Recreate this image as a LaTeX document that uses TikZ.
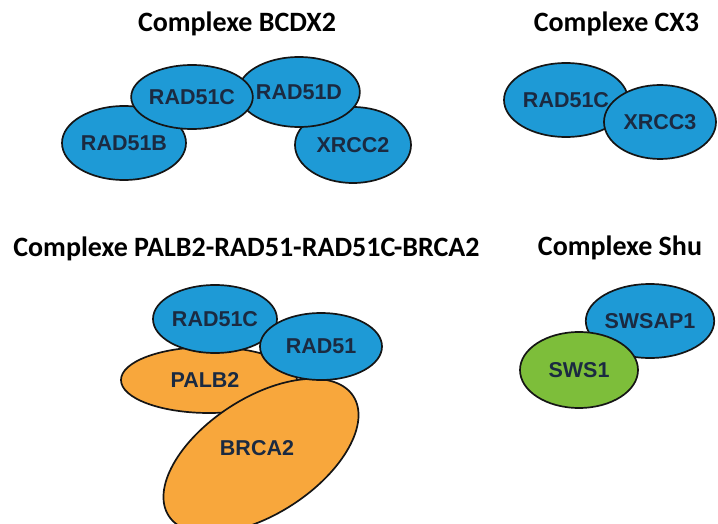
\documentclass[tikz,border=0pt]{standalone}
\usepackage{fontspec}
\setmainfont{Liberation Sans}
\newfontfamily\titlefont{Carlito}
\usetikzlibrary{shapes.geometric}
\definecolor{protblue}{HTML}{1E9AD6}
\definecolor{protorange}{HTML}{F8A73C}
\definecolor{protgreen}{HTML}{7DBE3A}
\definecolor{prottext}{HTML}{1B2A41}
\definecolor{protline}{HTML}{151515}
\tikzset{
  protlabel/.style={font=\fontsize{21.5}{24}\selectfont\bfseries, text=prottext},
  prot/.style={ellipse, draw=protline, line width=1.7pt, inner sep=0pt, protlabel},
  blueprot/.style={prot, fill=protblue},
  orangeprot/.style={prot, fill=protorange},
  greenprot/.style={prot, fill=protgreen},
  ptitle/.style={font=\titlefont\fontsize{28}{30}\selectfont\bfseries, text=black, inner sep=0pt, anchor=base}
}
\begin{document}
\begin{tikzpicture}[x=1pt,y=-1pt]
\useasboundingbox (0,0) rectangle (718,524);
% titles
\node[ptitle] (t1) at (237,32) {Complexe BCDX2};
\node[ptitle] (t2) at (616.5,32) {Complexe CX3};
\node[ptitle] (t3) at (246.5,256) {Complexe PALB2-RAD51-RAD51C-BRCA2};
\node[ptitle] (t4) at (620,255) {Complexe Shu};
% BCDX2
\node[blueprot, minimum width=124pt, minimum height=74pt] (b) at (124,143) {RAD51B};
\node[blueprot, minimum width=116pt, minimum height=76pt] (x2) at (353,145) {XRCC2};
\node[blueprot, minimum width=112pt, minimum height=70pt] (d) at (299,92) {RAD51D};
\node[blueprot, minimum width=116pt, minimum height=64pt] (c) at (192,97) {RAD51C};
% CX3
\node[blueprot, minimum width=124pt, minimum height=74pt] (c3) at (566,100) {RAD51C};
\node[blueprot, minimum width=112pt, minimum height=74pt] (x3) at (660,122) {XRCC3};
% PALB2 complex
\node[orangeprot, minimum width=176pt, minimum height=66pt] (p) at (209,380) {};
\node[protlabel] (pl) at (205,380) {PALB2};
\node[orangeprot, rotate=33, minimum width=220pt, minimum height=116pt] (br) at (261,456) {};
\node[protlabel] (brl) at (257,448) {BRCA2};
\node[blueprot, minimum width=124pt, minimum height=68pt] (pc) at (215,319) {RAD51C};
\node[blueprot, minimum width=122pt, minimum height=67pt] (r51) at (321,346.5) {RAD51};
% Shu
\node[blueprot, minimum width=116pt, minimum height=74pt] (sw) at (650,321) {SWSAP1};
\node[greenprot, minimum width=118pt, minimum height=76pt] (s1) at (579,370) {SWS1};
\end{tikzpicture}
\end{document}
